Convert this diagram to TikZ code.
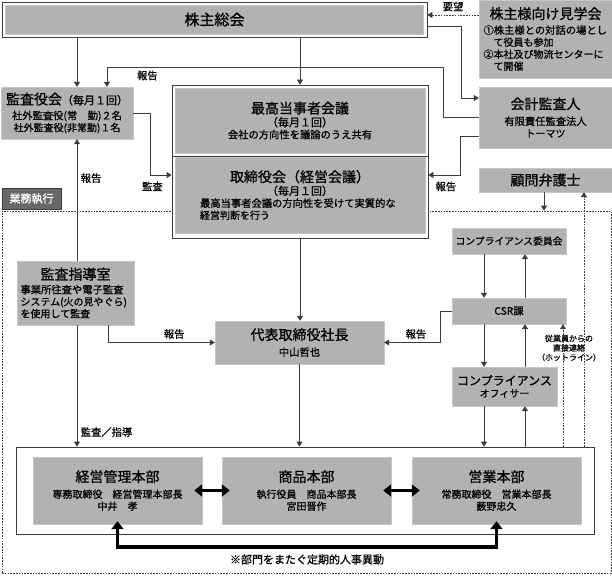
\documentclass[tikz,border=0pt]{standalone}
\usepackage{fontspec}
\setmainfont{Noto Sans CJK JP}[FakeBold=0.9]
\usetikzlibrary{arrows.meta}
\definecolor{boxgray}{RGB}{178,178,178}
\definecolor{boxline}{RGB}{198,198,198}
\definecolor{linegray}{RGB}{60,60,60}
\definecolor{taggray}{RGB}{104,104,104}
\def\bigf{\fontsize{15}{17}\selectfont}
\def\ttlf{\fontsize{14}{16}\selectfont}
\def\midf{\fontsize{11}{12.5}\selectfont}
\def\bdyf{\fontsize{10.3}{11.5}\selectfont}
\def\smlf{\fontsize{8}{9.5}\selectfont}

\begin{document}
\begin{tikzpicture}[>={Triangle[width=6pt,length=5pt]}, box/.style={rectangle, fill=boxgray, draw=boxline, inner sep=0pt, align=center}, frame/.style={rectangle, fill=white, draw=linegray, line width=0.8pt, inner sep=0pt}, link/.style={color=linegray, line width=0.8pt}, hot/.style={link, dash pattern=on 1.6pt off 1.2pt}, move/.style={line width=3.5pt, arrows={Triangle[width=12pt,length=8pt]-Triangle[width=12pt,length=8pt]}}, lbl/.style={text=black, font=\bdyf}]
\useasboundingbox (0pt, 0pt) rectangle (612pt, -575pt);
\draw (306.5pt, -392.0pt)node[rectangle, draw=linegray, line width=0.8pt, dash pattern=on 1.6pt off 1.2pt, minimum width=609pt, minimum height=362pt](20){};
\draw (31.5pt, -198.5pt)node[rectangle, fill=taggray, draw=linegray, text=white, font=\midf, minimum width=59pt, minimum height=21pt](21){業務執行};
\draw (214.5pt, -19.5pt)node[frame, minimum width=425pt, minimum height=35pt](0){};
\draw (300.0pt, -120.5pt)node[frame, minimum width=256pt, minimum height=71pt](1){};
\draw (300.0pt, -197.0pt)node[frame, minimum width=256pt, minimum height=82pt](2){};
\draw (305.0pt, -490.5pt)node[frame, minimum width=578pt, minimum height=87pt](3){};
\draw (214.5pt, -19.5pt)node[box, minimum width=418pt, minimum height=29pt](4){\bigf 株主総会};
\draw (300.0pt, -120.5pt)node[box, minimum width=250pt, minimum height=65pt](5){\ttlf 最高当事者会議\\[1pt] \midf （毎月１回）\\ \bdyf 会社の方向性を議論のうえ共有};
\draw (300.0pt, -195.0pt)node[box, minimum width=250pt, minimum height=76pt](6){\ttlf 取締役会（経営会議）\\[1pt] \midf （毎月１回）\\ \bdyf\makebox[200pt][l]{最高当事者会議の方向性を受けて実質的な}\\ \makebox[200pt][l]{経営判断を行う}};
\draw (67.0pt, -113.0pt)node[box, minimum width=132pt, minimum height=52pt](7){\ttlf 監査役会{\midf （毎月１回）}\\[3pt] \bdyf 社外監査役(常　勤)２名\\ 社外監査役(非常勤)１名};
\draw (545.5pt, -39.0pt)node[box, minimum width=133pt, minimum height=78pt](8){\ttlf 株主様向け見学会\\[3pt] \bdyf\makebox[124pt][l]{①株主様との対話の場とし}\\ \makebox[124pt][l]{\hspace{10pt}て役員も参加}\\ \makebox[124pt][l]{②本社及び物流センターに}\\ \makebox[124pt][l]{\hspace{10pt}て開催}};
\draw (545.5pt, -117.5pt)node[box, minimum width=133pt, minimum height=61pt](9){\ttlf 会計監査人\\[4pt] \bdyf 有限責任監査法人\\ トーマツ};
\draw (545.5pt, -180.0pt)node[box, minimum width=133pt, minimum height=24pt](10){\ttlf 顧問弁護士};
\draw (75.5pt, -293.0pt)node[box, minimum width=117pt, minimum height=64pt](11){\makebox[110pt]{\ttlf 監査指導室}\\[2pt] \bdyf\makebox[110pt][l]{事業所往査や電子監査}\\ \makebox[110pt][l]{システム(火の見やぐら)}\\ \makebox[110pt][l]{を使用して監査}};
\draw (299.5pt, -342.5pt)node[box, minimum width=169pt, minimum height=43pt](12){\ttlf 代表取締役社長\\[4pt] \bdyf 中山哲也};
\draw (509.0pt, -241.0pt)node[box, minimum width=114pt, minimum height=26pt](13){\fontsize{9.8}{11}\selectfont コンプライアンス委員会};
\draw (509.0pt, -311.0pt)node[box, minimum width=114pt, minimum height=26pt](14){\bdyf CSR課};
\draw (504.5pt, -386.5pt)node[box, minimum width=105pt, minimum height=39pt](15){\fontsize{12}{13.5}\selectfont コンプライアンス\\ オフィサー};
\draw (117.5pt, -490.5pt)node[box, minimum width=169pt, minimum height=67pt](16){\ttlf 経営管理本部\\[4pt] \fontsize{10}{13}\selectfont 専務取締役　経営管理本部長\\ 中井　孝};
\draw (306.5pt, -490.5pt)node[box, minimum width=169pt, minimum height=67pt](17){\ttlf 商品本部\\[4pt] \fontsize{10}{13}\selectfont 執行役員　商品本部長\\ 宮田晋作};
\draw (496.5pt, -490.5pt)node[box, minimum width=169pt, minimum height=67pt](18){\ttlf 営業本部\\[4pt] \fontsize{10}{13}\selectfont 常務取締役　営業本部長\\ 薮野忠久};
\draw (569.0pt, -348.0pt)node[align=center, font=\smlf](19){従業員からの\\直接連絡\\（ホットライン）};
\path[->, link] ([xshift=10pt]7.north |- 0.south) edge ([xshift=10pt]7.north);
\path[->, link] (0.south -| 1.north) edge (1.north);
\path[->, link] (2.south) edge (2.south |- 12.north);
\path[->, link] (12.south) edge (12.south |- 3.north);
\path[->, link] ([xshift=10pt]7.south |- 11.north) edge node[lbl, right, pos=0.68](22){報告} ([xshift=10pt]7.south);
\path[->, link] ([xshift=10pt]7.south |- 11.south) edge node[lbl, right, pos=0.88](23){監査／指導} ([xshift=10pt]7.south |- 3.north);
\path[->, link] ([xshift=-25pt]13.south) edge ([xshift=-25pt]14.north);
\path[->, link] ([xshift=16pt]14.north) edge ([xshift=16pt]13.south);
\path[->, link] ([xshift=-25pt]14.south) edge ([xshift=-25pt]14.south |- 15.north);
\path[->, link] ([xshift=16pt]14.south |- 15.north) edge ([xshift=16pt]14.south);
\path[->, link] ([xshift=-25pt]14.south |- 15.south) edge ([xshift=-25pt]14.south |- 3.north);
\path[->, link] ([xshift=16pt]14.south |- 3.north) edge ([xshift=16pt]14.south |- 15.south);
\path[->, hot] ([xshift=54pt]14.south |- 3.north) edge ([xshift=54pt]14.south);
\path[->, hot] ([xshift=38.5pt]10.south |- 3.north) edge ([xshift=38.5pt]10.south);
\path[->, link] ([xshift=-1.5pt]10.south) edge ([xshift=-1.5pt]10.south |- 20.north);
\path[->, hot] ([yshift=24pt]8.west) edge node[lbl, above](24){要望} ([yshift=24pt]8.west -| 0.east);
\draw[->, link] ([yshift=-6.5pt]0.east) -- ++(34pt, 0pt) |- ([yshift=19.5pt]9.west);
\draw[->, link] (9.west) -- ++(-35pt, 0pt) -- ++(0pt, 50.5pt) -| node[lbl, pos=0.44, below](25){報告} ([xshift=40pt]7.north);
\draw[->, link] (7.east) -- ++(17pt, 0pt) |- node[lbl, pos=0.55, below=3pt](26){監査} ([yshift=22pt]2.west);
\draw[->, link] ([yshift=-18.5pt]9.west) -- ++(-18pt, 0pt) |- node[lbl, pos=0.73, below=3pt](27){報告} ([yshift=22pt]2.east);
\draw[->, link] ([xshift=32.5pt]11.south) |- node[lbl, pos=0.81, above](28){報告} (12.west);
\draw[->, link] (14.west) -- ++(-11pt, 0pt) |- node[lbl, pos=0.72, above](29){報告} (12.east);
\draw[move] ([xshift=-8pt]16.east) -- ([xshift=8pt]17.west);
\draw[move] ([xshift=-8pt]17.east) -- ([xshift=8pt]18.west);
\draw[move] ([yshift=3pt]16.south) -- ++(0pt, -26pt) -| node[lbl, pos=0.25, below=2pt, font=\midf](30){※部門をまたぐ定期的人事異動} ([yshift=3pt]18.south);
\end{tikzpicture}
\end{document}
